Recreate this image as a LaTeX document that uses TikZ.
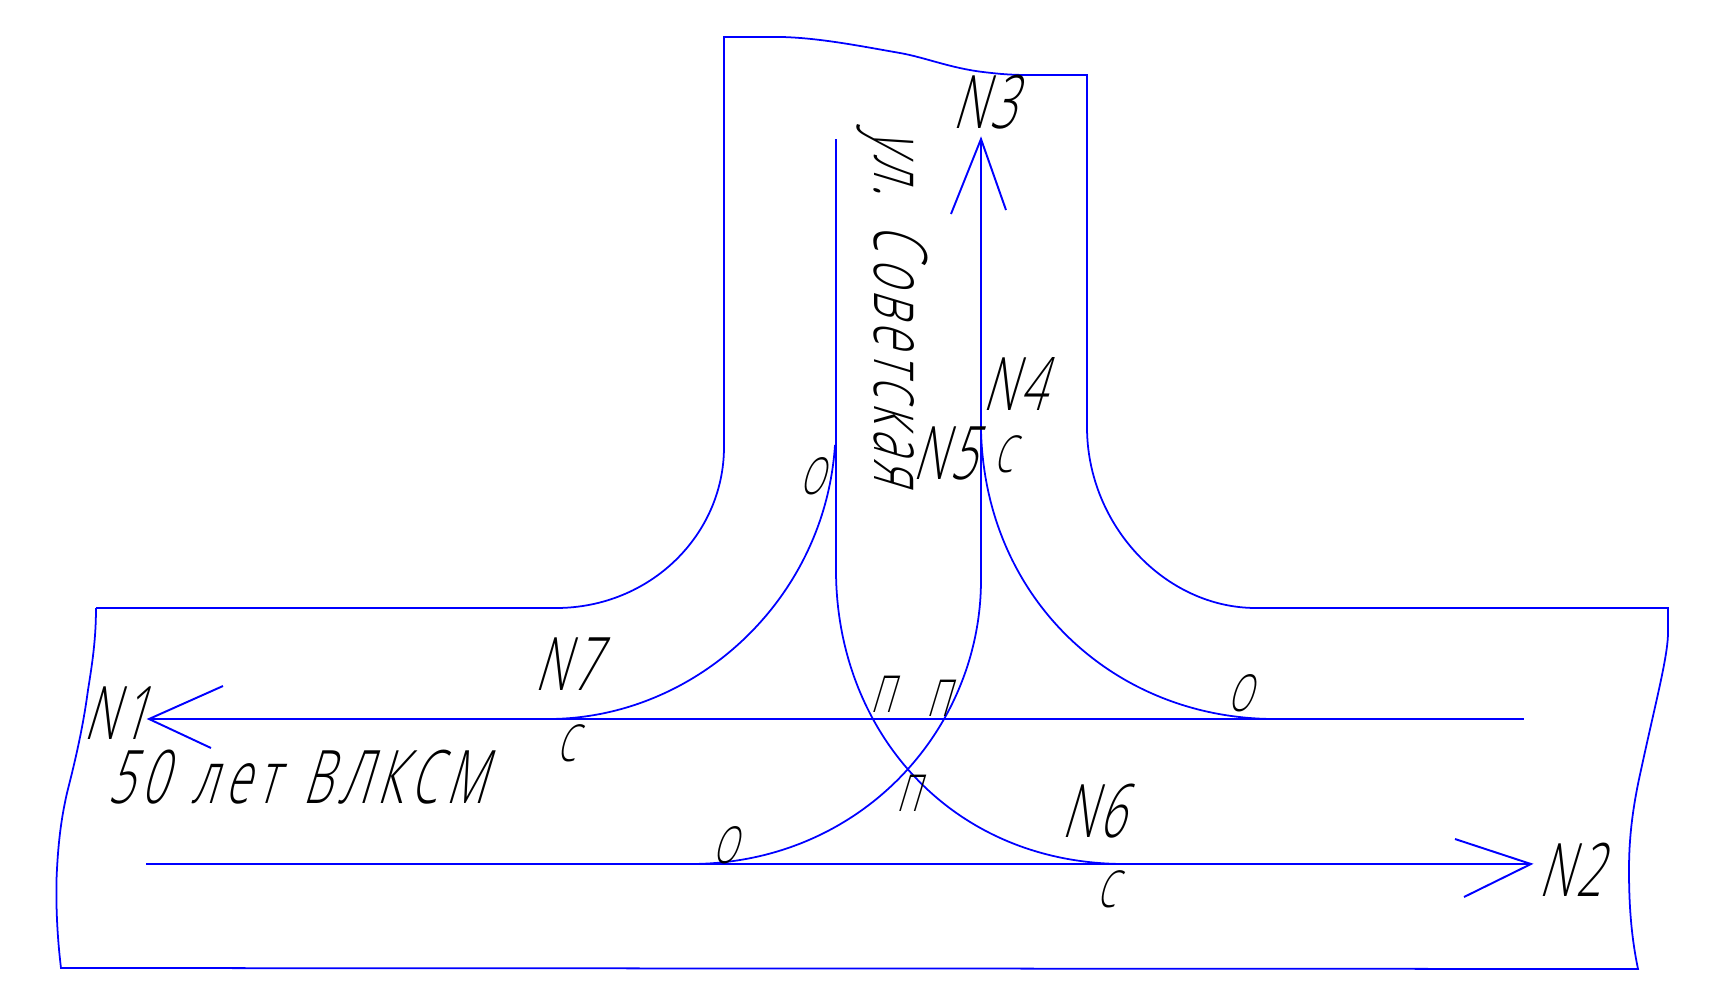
\documentclass[tikz,border=0pt]{standalone}
\usepackage{fontspec}
\newfontfamily\gostfont[FakeStretch=0.62,FakeSlant=0.3,LetterSpace=6]{Open Sans Light}
\newfontfamily\streetfont[FakeStretch=0.62,FakeSlant=0.3,LetterSpace=10,WordSpace=1.3]{Open Sans Light}
\newfontfamily\streetfontb[FakeStretch=0.62,FakeSlant=0.3,LetterSpace=7,WordSpace=1.3]{Open Sans Light}
\begin{document}
\begin{tikzpicture}[x=0.01cm,y=-0.01cm]
\useasboundingbox (0,0) rectangle (1732,984);
\tikzstyle{roadedge} = [draw=blue,line width=0.5pt]
\tikzstyle{laneline} = [draw=blue,line width=0.55pt]
\tikzstyle{nodelabel} = [inner sep=0pt,font=\gostfont\fontsize{21}{21}\selectfont,anchor=center]
\tikzstyle{movelabel} = [inner sep=0pt,font=\gostfont\fontsize{14.5}{14.5}\selectfont,anchor=center]
\tikzstyle{streetlabel} = [inner sep=0pt,font=\streetfont\fontsize{21}{21}\selectfont,anchor=center]
%%%%%%%%%%%%%%%%%%%%%%%%%%%%
% road outline
%%%%%%%%%%%%%%%%%%%%%%%%%%%%
\draw [roadedge] (96,608) -- (556,608) .. controls (650,608) and (724,535) .. (724,447) -- (724,37) -- (782,37)
  .. controls (820,38) and (860,46) .. (900,53) .. controls (925,57.4) and (950,68) .. (983,72) .. controls (1000,74) and (1010,75) .. (1030,75) -- (1087,75) -- (1087,427)
  .. controls (1087,525) and (1165,608) .. (1256,608) -- (1668,608) -- (1668,635)
  .. controls (1667,660) and (1655,705) .. (1641,770) .. controls (1632,810) and (1629,840) .. (1629,870) .. controls (1629,910) and (1632,940) .. (1638,969)
  -- (61,968) .. controls (57,935) and (56,905) .. (56.5,880) .. controls (58,840) and (62,815) .. (67,793) .. controls (78,750) and (84,720) .. (88,690) .. controls (92,665) and (96,640) .. (96,608);
%%%%%%%%%%%%%%%%%%%%%%%%%%%%
% lanes
%%%%%%%%%%%%%%%%%%%%%%%%%%%%
\coordinate (tip1) at (149,719);
\coordinate (tip2) at (1531,864);
\coordinate (tip3) at (981,139);
\coordinate (end1) at (1524,719);
\coordinate (end2) at (146,864);
\coordinate (end3) at (981,580);
\coordinate (up_top) at (836,139);
\coordinate (up_bot) at (836,570);
\draw [laneline] (tip1) -- (end1);
\draw [laneline] (end2) -- (tip2);
\draw [laneline] (end3) -- (tip3);
\draw [laneline] (up_top) -- (up_bot);
% arrow heads
\draw [laneline] (223,686) -- (tip1) -- (211,748);
\draw [laneline] (1455,839) -- (tip2) -- (1464,897);
\draw [laneline] (951,214) -- (tip3) -- (1006,210);
%%%%%%%%%%%%%%%%%%%%%%%%%%%%
% turns
%%%%%%%%%%%%%%%%%%%%%%%%%%%%
\draw [roadedge] (835,445) .. controls (825,600) and (695,719) .. (548,719);
\draw [roadedge] (981,430) .. controls (985,600) and (1115,719) .. (1275,719);
\draw [roadedge] (690,864) .. controls (860,864) and (981,730) .. (end3);
\draw [roadedge] (up_bot) .. controls (836,730) and (950,864) .. (1125,864);
%%%%%%%%%%%%%%%%%%%%%%%%%%%%
% labels
%%%%%%%%%%%%%%%%%%%%%%%%%%%%
\node (n1) [nodelabel] at (115,713){N1};
\node (n2) [nodelabel] at (1570,870){N2};
\node (n3) [nodelabel] at (984,102){N3};
\node (n4) [nodelabel] at (1014,384){N4};
\node (n5) [nodelabel] at (944,453){N5};
\node (n6) [nodelabel] at (1093,811){N6};
\node (n7) [nodelabel] at (566,664){N7};
\node (s1) [movelabel] at (1003,454){С};
\node (s2) [movelabel] at (566,743){С};
\node (s3) [movelabel] at (1106,889){С};
\node (o1) [movelabel] at (812,476){О};
\node (o2) [movelabel] at (725,845){О};
\node (o3) [movelabel] at (1240,693){О};
\node (p1) [movelabel] at (882,694){П};
\node (p2) [movelabel] at (938,698){П};
\node (p3) [movelabel] at (908,793){П};
\node (street1) [streetlabel] at (296,777){50 лет ВЛКСМ};
\node (street2) [streetlabel,font=\streetfontb\fontsize{21}{21}\selectfont,rotate=-90] at (892,306){ул. Советская};
\end{tikzpicture}
\end{document}
